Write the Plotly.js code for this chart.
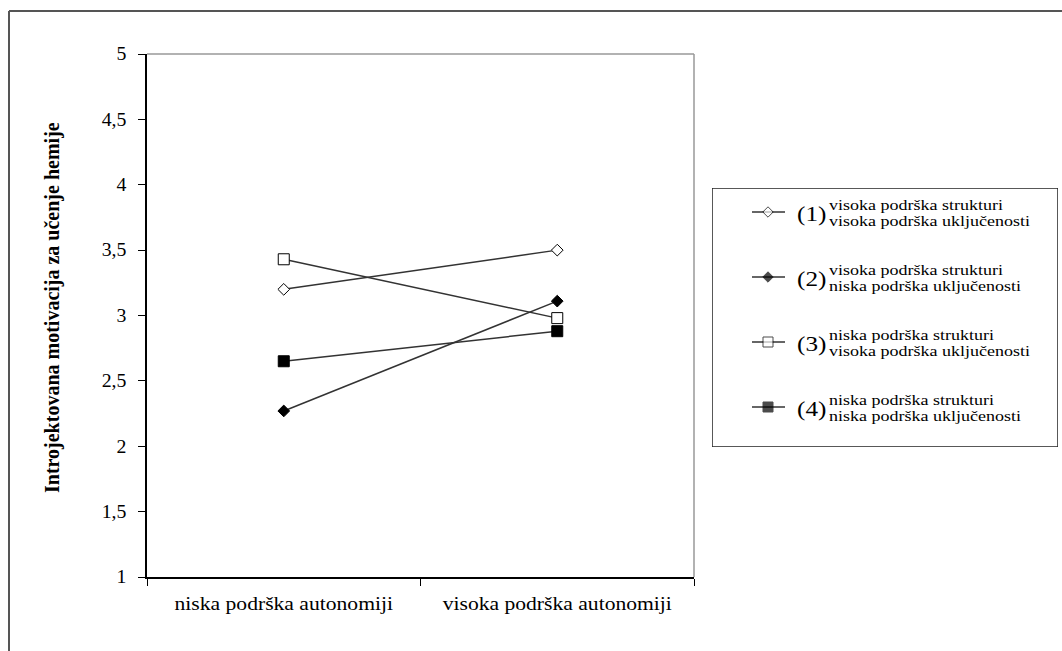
<!DOCTYPE html>
<html>
<head>
<meta charset="utf-8">
<script src="https://cdn.plot.ly/plotly-3.0.1.min.js"></script>
<style>
html,body{margin:0;padding:0;background:#fff;}
#chart{width:1062px;height:651px;}
</style>
</head>
<body>
<div id="chart"></div>
<script>
// ---- data ----
var categories = ["niska podrška autonomiji", "visoka podrška autonomiji"];
var seriesNames = ["(1)", "(2)", "(3)", "(4)"];
var seriesLine1 = ["visoka podrška strukturi", "visoka podrška strukturi", "niska podrška strukturi", "niska podrška strukturi"];
var seriesLine2 = ["visoka podrška uključenosti", "niska podrška uključenosti", "visoka podrška uključenosti", "niska podrška uključenosti"];
var s1 = [3.20, 3.50];
var s2 = [2.27, 3.11];
var s3 = [3.43, 2.98];
var s4 = [2.65, 2.88];
var yTicks = [1, 1.5, 2, 2.5, 3, 3.5, 4, 4.5, 5];
var yTickText = ["1", "1,5", "2", "2,5", "3", "3,5", "4", "4,5", "5"];
var yTitle = "Introjektovana motivacija za učenje hemije";

// ---- styles ----
var W = 1062, H = 651;
function px(x){ return x / W; }
function py(y){ return 1 - y / H; }
var serif = "Liberation Serif, Times New Roman, serif";
var lineCol = "#333333";
var markers = [
  {symbol: "diamond", size: 9, color: "#ffffff"},
  {symbol: "diamond", size: 9, color: "#000000"},
  {symbol: "square", size: 11, color: "#ffffff"},
  {symbol: "square", size: 11, color: "#000000"}
];
var allSeries = [s1, s2, s3, s4];

var traces = allSeries.map(function(s, i){
  return {
    type: "scatter", mode: "lines+markers",
    x: categories, y: s,
    xaxis: "x", yaxis: "y",
    name: seriesNames[i],
    showlegend: false,
    line: {color: lineCol, width: 1.5},
    marker: {symbol: markers[i].symbol, size: markers[i].size, color: markers[i].color,
             line: {color: "#000000", width: 1}},
    cliponaxis: false
  };
});

// legend geometry (pixels)
var legL = 712, legR = 1058, legT = 188, legB = 447;
var entryY = [212, 277, 342, 407];
var symX0 = 752, symX = 768, symX1 = 785;

// legend sample markers on an overlay pixel axis
traces.push({
  type: "scatter", mode: "markers",
  x: entryY.map(function(){ return symX; }), y: entryY,
  xaxis: "x2", yaxis: "y2", showlegend: false, hoverinfo: "skip",
  marker: {
    symbol: markers.map(function(m){ return m.symbol; }),
    size: markers.map(function(m){ return m.size - 1; }),
    color: markers.map(function(m){ return m.color; }),
    line: {color: "#000000", width: 1}
  }
});

var shapes = [
  {type: "line", xref: "paper", yref: "paper", x0: px(9), x1: 1, y0: py(11), y1: py(11), line: {color: "#555", width: 2}},
  {type: "line", xref: "paper", yref: "paper", x0: px(9), x1: px(9), y0: py(11), y1: 0, line: {color: "#555", width: 2}},
  {type: "line", xref: "x domain", yref: "y domain", x0: 0, x1: 1, y0: 1, y1: 1, line: {color: "#999", width: 1.5}},
  {type: "line", xref: "x domain", yref: "y domain", x0: 1, x1: 1, y0: 0, y1: 1, line: {color: "#999", width: 1.5}},
  {type: "rect", xref: "x2", yref: "y2", x0: legL, x1: legR, y0: legT, y1: legB, line: {color: "#222", width: 1.5}, layer: "below"}
];
entryY.forEach(function(y){
  shapes.push({type: "line", xref: "x2", yref: "y2", x0: symX0, x1: symX1, y0: y, y1: y,
               line: {color: lineCol, width: 1.5}, layer: "below"});
});

var annotations = [
  {xref: "paper", yref: "paper", x: px(52), y: py(308), text: "<b>" + yTitle + "</b>",
   textangle: -90, showarrow: false, xanchor: "center", yanchor: "middle",
   font: {family: serif, size: 20, color: "#000"}}
];
entryY.forEach(function(y, i){
  annotations.push({xref: "x2", yref: "y2", x: 795, y: y + 2, text: seriesNames[i], showarrow: false,
    xanchor: "left", yanchor: "middle", font: {family: serif, size: 21, color: "#000"}});
  annotations.push({xref: "x2", yref: "y2", x: 827, y: y - 7, text: seriesLine1[i], showarrow: false,
    xanchor: "left", yanchor: "middle", font: {family: serif, size: 15, color: "#000"}});
  annotations.push({xref: "x2", yref: "y2", x: 827, y: y + 9, text: seriesLine2[i], showarrow: false,
    xanchor: "left", yanchor: "middle", font: {family: serif, size: 15, color: "#000"}});
});

var layout = {
  width: W, height: H,
  margin: {l: 0, r: 0, t: 0, b: 0},
  paper_bgcolor: "#fff", plot_bgcolor: "#fff",
  showlegend: false,
  xaxis: {
    domain: [px(147), px(694)],
    type: "category",
    range: [-0.5, 1.5],
    showline: true, linecolor: "#000", linewidth: 1.5,
    ticks: "outside", tickson: "boundaries", ticklen: 7, tickcolor: "#000", tickwidth: 1,
    showgrid: false, zeroline: false,
    tickfont: {family: serif, size: 18, color: "#000"},
    ticklabelstandoff: 10,
    anchor: "y"
  },
  yaxis: {
    domain: [py(577), py(54)],
    range: [1, 5], autorange: false,
    tickvals: yTicks, ticktext: yTickText,
    showline: true, linecolor: "#000", linewidth: 2,
    ticks: "outside", ticklen: 7, tickcolor: "#000", tickwidth: 1,
    showgrid: false, zeroline: false,
    tickfont: {family: serif, size: 18, color: "#000"},
    ticklabelstandoff: 8,
    anchor: "x"
  },
  xaxis2: {domain: [px(legL), px(legR)], range: [legL, legR], autorange: false, visible: false, anchor: "y2", fixedrange: true},
  yaxis2: {domain: [py(legB), py(legT)], range: [legB, legT], autorange: false, visible: false, anchor: "x2", fixedrange: true},
  shapes: shapes,
  annotations: annotations
};

// horizontal stretch of text glyphs (the reference's lettering is wide)
function stretch(el, k, keepLeft){
  var w = el.getComputedTextLength();
  if (!w) return;
  el.setAttribute("textLength", (w * k).toFixed(2));
  el.setAttribute("lengthAdjust", "spacingAndGlyphs");
  if (keepLeft) {
    var anchor = el.getAttribute("text-anchor") || window.getComputedStyle(el).textAnchor;
    var shift = 0;
    if (anchor === "middle") shift = w * (k - 1) / 2;
    else if (anchor === "end") shift = w * (k - 1);
    if (shift) {
      var x = parseFloat(el.getAttribute("x") || "0");
      el.setAttribute("x", (x + shift).toFixed(2));
      var spans = el.querySelectorAll("tspan[x]");
      spans.forEach(function(t){ t.setAttribute("x", (parseFloat(t.getAttribute("x")) + shift).toFixed(2)); });
    }
  }
}

Plotly.newPlot("chart", traces, layout, {displayModeBar: false, staticPlot: true}).then(function(gd){
  gd.querySelectorAll(".xtick text").forEach(function(el){ stretch(el, 1.2, false); });
  gd.querySelectorAll(".ytick text").forEach(function(el){ stretch(el, 1.1, false); });
  gd.querySelectorAll(".annotation").forEach(function(g){
    if (g.getAttribute("data-index") === "0") return;
    var t = g.querySelector("text.annotation-text");
    if (t) stretch(t, 1.2, true);
  });
});
</script>
</body>
</html>
